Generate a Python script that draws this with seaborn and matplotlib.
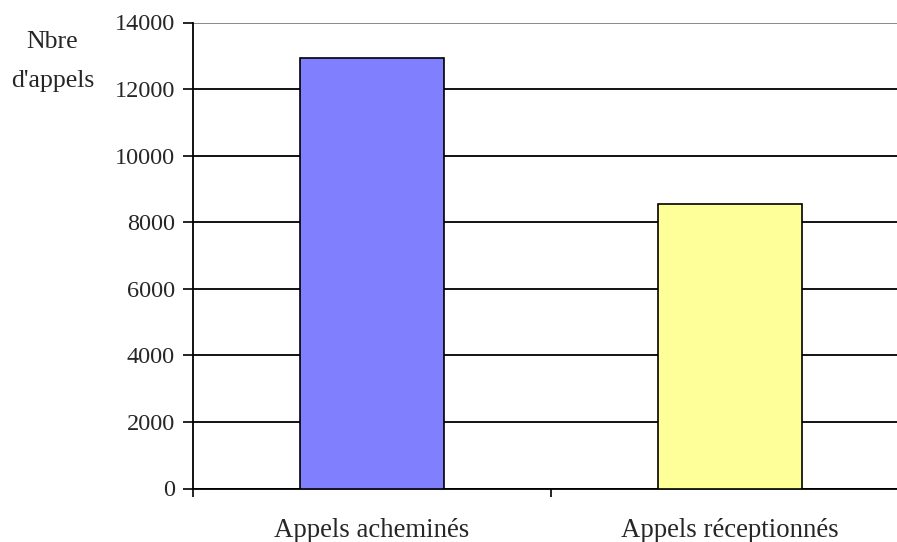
import matplotlib.pyplot as plt
import seaborn as sns

categories = ["Appels acheminés", "Appels réceptionnés"]
values = [12920, 8540]
colors = ["#8080ff", "#ffff99"]
yticks = [0, 2000, 4000, 6000, 8000, 10000, 12000, 14000]

sns.set_style("white")
plt.rcParams["font.family"] = ["Liberation Serif", "DejaVu Serif"]

fig = plt.figure(figsize=(8.97, 5.42), dpi=100)
ax = fig.add_axes([193 / 897, 1 - 488.5 / 542, 716 / 897, 466 / 542])

sns.barplot(x=categories, y=values, hue=categories, palette=colors,
            saturation=1, width=0.4, edgecolor="black", linewidth=1.2,
            legend=False, ax=ax, zorder=3)

ax.set_xlim(-0.5, 1.5)
ax.set_ylim(0, 14000)
ax.set_yticks(yticks)
ax.set_yticklabels([str(v) for v in yticks], fontsize=17.5)
ax.set_xticks([0, 1])
ax.set_xticklabels(categories, fontsize=19.3)
ax.set_xticks([-0.5, 0.5, 1.5], minor=True)
ax.tick_params(axis="x", which="major", length=0, pad=21)
ax.tick_params(axis="x", which="minor", length=6, width=1.2, color="black",
               direction="out", bottom=True)
ax.tick_params(axis="y", length=7, width=1.2, color="black",
               direction="out", left=True, pad=6)

ax.yaxis.grid(True, color="black", linewidth=1.3, zorder=0)
ax.get_ygridlines()[-1].set_color("gray")
ax.set_axisbelow(True)
ax.set_xlabel("")
ax.set_ylabel("")

for side in ["top", "right"]:
    ax.spines[side].set_visible(False)
for side in ["left", "bottom"]:
    ax.spines[side].set_color("black")
    ax.spines[side].set_linewidth(1.3)

fig.text(52 / 897, 1 - 42 / 542, "Nbre", fontsize=18.5, ha="center", va="center")
fig.text(53 / 897, 1 - 81 / 542, "d'appels", fontsize=18.5, ha="center", va="center")

fig.savefig("out.png", dpi=100)
